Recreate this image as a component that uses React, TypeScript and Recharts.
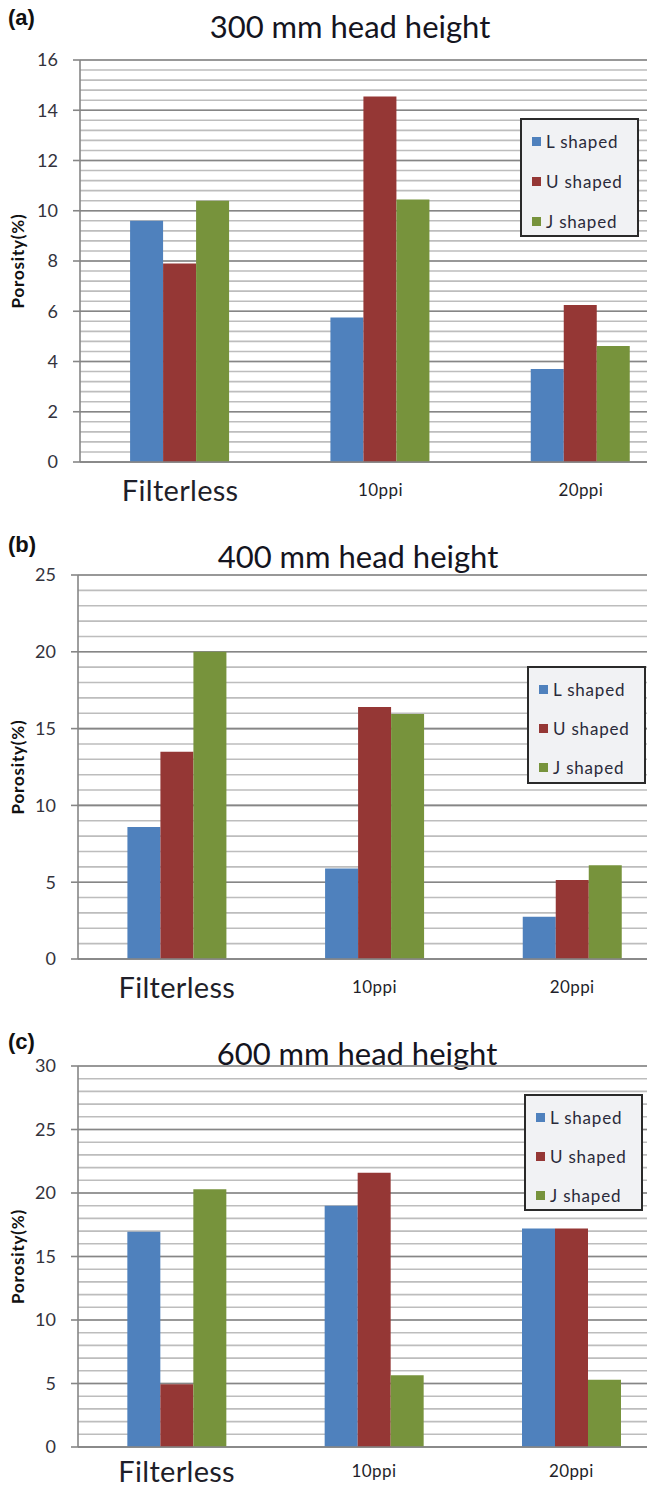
import React from 'react'
import { BarChart, Bar, XAxis, YAxis, CartesianGrid, Legend, Label } from 'recharts'

const categories = ['Filterless', '10ppi', '20ppi']
const seriesNames = ['L shaped', 'U shaped', 'J shaped']
const seriesColors = ['#4F81BD', '#953735', '#77933C']

// 300 mm head height
const lShaped300 = [9.6, 5.75, 3.7]
const uShaped300 = [7.9, 14.55, 6.25]
const jShaped300 = [10.4, 10.45, 4.62]
// 400 mm head height
const lShaped400 = [8.6, 5.9, 2.75]
const uShaped400 = [13.5, 16.4, 5.15]
const jShaped400 = [20.0, 15.95, 6.1]
// 600 mm head height
const lShaped600 = [16.95, 19.0, 17.2]
const uShaped600 = [4.95, 21.6, 17.2]
const jShaped600 = [20.3, 5.65, 5.3]

const ticks300 = [0, 2, 4, 6, 8, 10, 12, 14, 16]
const ticks400 = [0, 5, 10, 15, 20, 25]
const ticks600 = [0, 5, 10, 15, 20, 25, 30]

const FONT = 'Lato, "Open Sans", sans-serif'

const buildRows = (l: number[], u: number[], j: number[]) =>
  categories.map((name, i) => ({ name, l: l[i], u: u[i], j: j[i] }))

// minor gridline values, every `step` up to max
const minorValues = (max: number, step: number) => {
  const out: number[] = []
  for (let i = 0; i * step <= max + 1e-9; i++) out.push(+(i * step).toFixed(4))
  return out
}

const makeCategoryTick = (shift: number) => ({ x, y, payload }: any) => {
  const big = payload.value === 'Filterless'
  return (
    <text
      x={x}
      y={y + (big ? 39 : 34) + shift}
      textAnchor="middle"
      fontSize={big ? 29 : 17}
      letterSpacing={big ? 0.3 : 0.4}
      fill="#1f1f2a"
      fontFamily={FONT}
    >
      {payload.value}
    </text>
  )
}

const renderLegend = (size: { w: number; h: number; gap: number; first: number }) => (props: any) => {
  const items = [...(props.payload || [])].sort(
    (a: any, b: any) => seriesNames.indexOf(a.value) - seriesNames.indexOf(b.value)
  )
  return (
    <div
      style={{
        position: 'relative',
        width: size.w,
        height: size.h,
        boxSizing: 'border-box',
        border: '2px solid #2a2a2a',
        background: '#f1f2f4',
        fontFamily: FONT,
      }}
    >
      {items.map((p: any, i: number) => (
        <div
          key={p.value}
          style={{
            position: 'absolute',
            left: 10,
            top: size.first + i * size.gap - 11,
            height: 22,
            display: 'flex',
            alignItems: 'center',
            fontSize: 17,
            color: '#2a2a3a',
            letterSpacing: 0.8,
            whiteSpace: 'nowrap',
          }}
        >
          <span style={{ width: 9, height: 9, background: p.color, marginRight: 5 }} />
          {p.value}
        </div>
      ))}
    </div>
  )
}

interface PanelProps {
  top: number
  letter: string
  letterTop: number
  title: string
  titleX: number
  titleTop: number
  rows: any[]
  ticks: number[]
  minorStep: number
  axisX: number
  plotWidth: number
  plotHeight: number
  legendLeft: number
  legendTop: number
  legendH: number
  legendGap: number
  labelShift: number
}

function Panel(p: PanelProps) {
  const max = p.ticks[p.ticks.length - 1]
  const minor = minorValues(max, p.minorStep)
  const marginTop = 60
  const chartH = marginTop + p.plotHeight + 45
  return (
    <div style={{ position: 'absolute', left: 0, top: p.top, width: p.axisX + p.plotWidth, height: chartH }}>
      <div
        style={{
          position: 'absolute',
          left: 8,
          top: p.letterTop,
          fontFamily: '"Liberation Sans", Arial, sans-serif',
          fontWeight: 'bold',
          fontSize: 22,
          color: '#111',
          lineHeight: '24px',
        }}
      >
        {p.letter}
      </div>
      <div
        style={{
          position: 'absolute',
          left: p.titleX,
          top: p.titleTop,
          transform: 'translateX(-50%)',
          fontFamily: FONT,
          fontSize: 31,
          color: '#141420',
          lineHeight: '34px',
          whiteSpace: 'nowrap',
        }}
      >
        {p.title}
      </div>
      <BarChart
        width={p.axisX + p.plotWidth}
        height={chartH}
        data={p.rows}
        margin={{ top: marginTop, right: 0, left: 0, bottom: 0 }}
        barCategoryGap="25%"
        barGap={0}
      >
        <CartesianGrid
          vertical={false}
          stroke="#bdbdbd"
          strokeWidth={1.6}
          horizontalCoordinatesGenerator={({ offset }: any) =>
            minor.map((v) => offset.top + offset.height * (1 - v / max))
          }
        />
        <CartesianGrid vertical={false} stroke="#868686" strokeWidth={1.6} />
        <XAxis
          dataKey="name"
          axisLine={{ stroke: '#868686', strokeWidth: 1.6 }}
          tickLine={false}
          tickSize={0}
          tickMargin={0}
          interval={0}
          height={45}
          tick={makeCategoryTick(p.labelShift)}
        />
        <YAxis
          width={p.axisX}
          domain={[0, max]}
          ticks={p.ticks}
          interval={0}
          axisLine={{ stroke: '#868686', strokeWidth: 1.6 }}
          tickLine={{ stroke: '#868686', strokeWidth: 1.6 }}
          tickSize={7}
          tickMargin={15}
          tick={{ fill: '#33333d', fontSize: 18, fontFamily: FONT }}
        >
          <Label
            content={({ viewBox }: any) => {
              const cy = viewBox.y + viewBox.height / 2
              return (
                <text
                  x={17}
                  y={cy}
                  transform={`rotate(-90 17 ${cy})`}
                  textAnchor="middle"
                  dominantBaseline="central"
                  fontFamily={FONT}
                  fontWeight="bold"
                  fontSize={17}
                  letterSpacing={0.8}
                  fill="#111"
                >
                  Porosity(%)
                </text>
              )
            }}
          />
        </YAxis>
        <Legend
          layout="vertical"
          align="center"
          verticalAlign="middle"
          wrapperStyle={{ left: p.legendLeft, top: p.legendTop, width: 'auto' }}
          content={renderLegend({ w: 119, h: p.legendH, gap: p.legendGap, first: 21 })}
        />
        <Bar dataKey="l" name={seriesNames[0]} fill={seriesColors[0]} isAnimationActive={false} />
        <Bar dataKey="u" name={seriesNames[1]} fill={seriesColors[1]} isAnimationActive={false} />
        <Bar dataKey="j" name={seriesNames[2]} fill={seriesColors[2]} isAnimationActive={false} />
      </BarChart>
    </div>
  )
}

export default function App() {
  return (
    <div
      style={{
        position: 'absolute',
        left: 0,
        top: 0,
        width: 647,
        height: 1489,
        overflow: 'hidden',
        background: '#fff',
      }}
    >
      <Panel
        top={0}
        letter="(a)"
        letterTop={6}
        title="300 mm head height"
        titleX={350}
        titleTop={9}
        rows={buildRows(lShaped300, uShaped300, jShaped300)}
        ticks={ticks300}
        minorStep={0.4}
        axisX={80}
        plotWidth={601}
        plotHeight={402}
        legendLeft={520}
        legendTop={118}
        legendH={119}
        legendGap={40}
        labelShift={0}
      />
      <Panel
        top={515}
        letter="(b)"
        letterTop={18}
        title="400 mm head height"
        titleX={358}
        titleTop={24}
        rows={buildRows(lShaped400, uShaped400, jShaped400)}
        ticks={ticks400}
        minorStep={1}
        axisX={78}
        plotWidth={593}
        plotHeight={384}
        legendLeft={527}
        legendTop={151}
        legendH={118}
        legendGap={39}
        labelShift={0}
      />
      <Panel
        top={1006}
        letter="(c)"
        letterTop={24}
        title="600 mm head height"
        titleX={357}
        titleTop={30}
        rows={buildRows(lShaped600, uShaped600, jShaped600)}
        ticks={ticks600}
        minorStep={1}
        axisX={78}
        plotWidth={592}
        plotHeight={381}
        legendLeft={524}
        legendTop={88}
        legendH={117}
        legendGap={39}
        labelShift={-4}
      />
    </div>
  )
}
